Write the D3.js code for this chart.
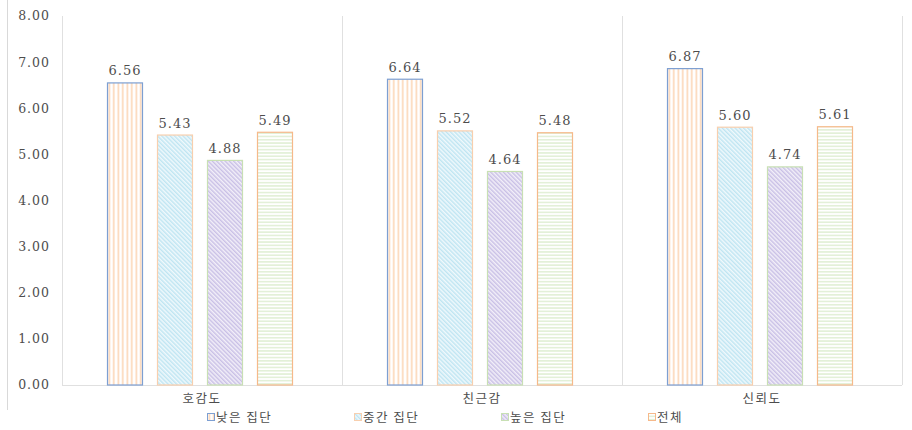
<!DOCTYPE html>
<html>
<head>
<meta charset="utf-8">
<script src="https://cdn.jsdelivr.net/npm/d3@7"></script>
<style>
  body { margin: 0; background: #fff; }
  svg text { fill: #4d4d4d; }
</style>
</head>
<body>
<div id="chart-container"></div>
<script>
const categories = ["호감도", "친근감", "신뢰도"];
const seriesNames = ["낮은 집단", "중간 집단", "높은 집단", "전체"];
const low = [6.56, 6.64, 6.87];
const mid = [5.43, 5.52, 5.60];
const high = [4.88, 4.64, 4.74];
const total = [5.49, 5.48, 5.61];
const yTicks = [0, 1, 2, 3, 4, 5, 6, 7, 8];

const allSeries = [low, mid, high, total];

let margin = { top: 16, right: 10, bottom: 45, left: 62 };
let width = 840;
let height = 369;

var svg = d3
  .select("#chart-container")
  .append("svg")
  .attr("width", 912)
  .attr("height", 430);

// patterns for the bars
let defs = svg.append("defs");

let p1 = defs.append("pattern").attr("id", "pat0")
  .attr("patternUnits", "userSpaceOnUse").attr("width", 4.5).attr("height", 10);
p1.append("rect").attr("width", 4.5).attr("height", 10).attr("fill", "#fff");
p1.append("rect").attr("x", 1.5).attr("width", 1.6).attr("height", 10).attr("fill", "#fbd6b6");

let p2 = defs.append("pattern").attr("id", "pat1")
  .attr("patternUnits", "userSpaceOnUse").attr("width", 3).attr("height", 3)
  .attr("patternTransform", "rotate(-45)");
p2.append("rect").attr("width", 3).attr("height", 3).attr("fill", "#f1f9fc");
p2.append("rect").attr("width", 1.5).attr("height", 3).attr("fill", "#bfe5f2");

let p3 = defs.append("pattern").attr("id", "pat2")
  .attr("patternUnits", "userSpaceOnUse").attr("width", 3).attr("height", 3)
  .attr("patternTransform", "rotate(-45)");
p3.append("rect").attr("width", 3).attr("height", 3).attr("fill", "#f3f0f9");
p3.append("rect").attr("width", 1.5).attr("height", 3).attr("fill", "#c9c0e6");

let p4 = defs.append("pattern").attr("id", "pat3")
  .attr("patternUnits", "userSpaceOnUse").attr("width", 10).attr("height", 3.3);
p4.append("rect").attr("width", 10).attr("height", 3.3).attr("fill", "#fff");
p4.append("rect").attr("y", 1).attr("width", 10).attr("height", 1.3).attr("fill", "#dcecce");

const fills = ["url(#pat0)", "url(#pat1)", "url(#pat2)", "url(#pat3)"];
const strokes = ["#7d9fd2", "#f8cfae", "#c8e0b4", "#f6b98a"];

// outer frame line on the left
svg.append("line")
  .attr("x1", 7.5).attr("x2", 7.5).attr("y1", 0).attr("y2", 410)
  .attr("stroke", "#d9d9d9");

let g = svg.append("g")
  .attr("transform", "translate(" + margin.left + "," + margin.top + ")");

let x0 = d3.scaleBand().domain(categories).range([0, width]);
let x1 = d3.scaleBand().domain(d3.range(4)).range([45, 231]).paddingInner(0.28);
let yScale = d3.scaleLinear().domain([0, 8]).range([height, 0]);

// vertical separators
let seps = [0].concat(categories.map((c) => x0(c) + x0.bandwidth()));
g.selectAll(".sep")
  .data(seps)
  .enter()
  .append("line")
  .attr("x1", (d) => d + 0.5)
  .attr("x2", (d) => d + 0.5)
  .attr("y1", 0)
  .attr("y2", height)
  .attr("stroke", "#e0e0e0");

// baseline
g.append("line")
  .attr("x1", 0).attr("x2", width)
  .attr("y1", height + 0.5).attr("y2", height + 0.5)
  .attr("stroke", "#e0e0e0");

// Y axis labels
g.selectAll(".ytick")
  .data(yTicks)
  .enter()
  .append("text")
  .attr("x", -12)
  .attr("y", (d) => yScale(d))
  .attr("dy", "0.35em")
  .attr("text-anchor", "end")
  .style("font-family", "'DejaVu Serif', serif")
  .style("font-size", "12.5px")
  .style("letter-spacing", "1px")
  .text((d) => d.toFixed(2));

// bars
categories.forEach((cat, ci) => {
  let grp = g.append("g").attr("transform", "translate(" + x0(cat) + ",0)");
  allSeries.forEach((s, si) => {
    let v = s[ci];
    grp.append("rect")
      .attr("x", x1(si) + 0.5)
      .attr("y", yScale(v) + 0.5)
      .attr("width", x1.bandwidth() - 1)
      .attr("height", height - yScale(v) - 0.5)
      .attr("fill", fills[si])
      .attr("stroke", strokes[si])
      .attr("stroke-width", 1.2);
    grp.append("text")
      .attr("x", x1(si) + x1.bandwidth() / 2)
      .attr("y", yScale(v) - 7)
      .attr("text-anchor", "middle")
      .style("font-family", "'DejaVu Serif', serif")
      .style("font-size", "13px")
      .style("letter-spacing", "1px")
      .text(v.toFixed(2));
  });
  grp.append("text")
    .attr("x", x0.bandwidth() / 2)
    .attr("y", height + 18)
    .attr("text-anchor", "middle")
    .style("font-family", "'Noto Sans CJK KR', sans-serif")
    .style("font-size", "12.5px")
    .style("letter-spacing", "1.5px")
    .text(cat);
});

// legend
let legend = svg.append("g")
  .selectAll(".legend-item")
  .data(seriesNames)
  .enter()
  .append("g")
  .attr("transform", (d, i) => "translate(" + (207 + i * 147) + ",418)");

legend.append("rect")
  .attr("x", 0.5)
  .attr("y", -4.5)
  .attr("width", 7)
  .attr("height", 7)
  .attr("fill", (d, i) => fills[i])
  .attr("stroke", (d, i) => strokes[i]);

legend.append("text")
  .attr("x", 9)
  .attr("y", 0)
  .attr("dy", "0.35em")
  .style("font-family", "'Noto Sans CJK KR', sans-serif")
  .style("font-size", "12.5px")
  .style("letter-spacing", "1.5px")
  .text((d) => d);
</script>
</body>
</html>
